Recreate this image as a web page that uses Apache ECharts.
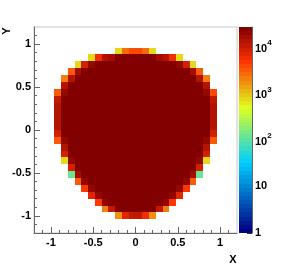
<!DOCTYPE html>
<html><head><meta charset="utf-8">
<script src="https://cdn.jsdelivr.net/npm/echarts@6/dist/echarts.min.js"></script>
<style>html,body{margin:0;padding:0;background:#fff}#c{width:286px;height:278px}</style>
</head><body><div id="c"></div>
<script>
// ---- data ----
const xBinCenters = [-1.16,-1.08,-1.0,-0.92,-0.84,-0.76,-0.68,-0.6,-0.52,-0.44,-0.36,-0.28,-0.2,-0.12,-0.04,0.04,0.12,0.2,0.28,0.36,0.44,0.52,0.6,0.68,0.76,0.84,0.92,1.0,1.08,1.16];
const yBinCenters = [0.92,0.84,0.76,0.68,0.6,0.52,0.44,0.36,0.28,0.2,0.12,0.04,-0.04,-0.12,-0.2,-0.28,-0.36,-0.44,-0.52,-0.6,-0.68,-0.76,-0.84,-0.92,-1.0];
const rowFirstBin = [12,8,6,5,4,4,3,3,3,3,3,3,3,3,4,4,4,5,5,6,7,8,9,10,12];
const rowCounts = [
 [750,2500,4000,4000,2500,750],
 [700,6000,13000,17000,22000,23000,23000,23000,23000,22000,17000,13000,6000,700],
 [750,9000,20000,22000,23000,24000,24000,24000,24000,24000,24000,24000,24000,23000,22000,20000,9000,750],
 [3300,16000,22000,23000,24000,24000,24000,24000,24000,24000,24000,24000,24000,24000,24000,24000,23000,22000,16000,3000],
 [2000,13000,22000,24000,24000,24000,24000,24000,24000,24000,24000,24000,24000,24000,24000,24000,24000,24000,24000,22000,13000,2000],
 [14000,22000,24000,24000,24000,24000,24000,24000,24000,24000,24000,24000,24000,24000,24000,24000,24000,24000,24000,24000,22000,14000],
 [3300,21000,24000,24000,24000,24000,24000,24000,24000,24000,24000,24000,24000,24000,24000,24000,24000,24000,24000,24000,24000,24000,21000,4000],
 [10000,23000,24000,24000,24000,24000,24000,24000,24000,24000,24000,24000,24000,24000,24000,24000,24000,24000,24000,24000,24000,24000,23000,10000],
 [13000,24000,24000,24000,24000,24000,24000,24000,24000,24000,24000,24000,24000,24000,24000,24000,24000,24000,24000,24000,24000,24000,24000,13000],
 [14000,24000,24000,24000,24000,24000,24000,24000,24000,24000,24000,24000,24000,24000,24000,24000,24000,24000,24000,24000,24000,24000,24000,14000],
 [13000,24000,24000,24000,24000,24000,24000,24000,24000,24000,24000,24000,24000,24000,24000,24000,24000,24000,24000,24000,24000,24000,24000,13000],
 [12000,24000,24000,24000,24000,24000,24000,24000,24000,24000,24000,24000,24000,24000,24000,24000,24000,24000,24000,24000,24000,24000,24000,12000],
 [8500,23000,24000,24000,24000,24000,24000,24000,24000,24000,24000,24000,24000,24000,24000,24000,24000,24000,24000,24000,24000,24000,23000,8500],
 [3000,21000,24000,24000,24000,24000,24000,24000,24000,24000,24000,24000,24000,24000,24000,24000,24000,24000,24000,24000,24000,24000,21000,3000],
 [14000,24000,24000,24000,24000,24000,24000,24000,24000,24000,24000,24000,24000,24000,24000,24000,24000,24000,24000,24000,24000,14000],
 [8500,23000,24000,24000,24000,24000,24000,24000,24000,24000,24000,24000,24000,24000,24000,24000,24000,24000,24000,24000,23000,8500],
 [700,20000,24000,24000,24000,24000,24000,24000,24000,24000,24000,24000,24000,24000,24000,24000,24000,24000,24000,24000,20000,700],
 [8500,22000,24000,24000,24000,24000,24000,24000,24000,24000,24000,24000,24000,24000,24000,24000,24000,24000,22000,8500],
 [110,15000,23000,24000,24000,24000,24000,24000,24000,24000,24000,24000,24000,24000,24000,24000,24000,23000,15000,110],
 [3300,20000,24000,24000,24000,24000,24000,24000,24000,24000,24000,24000,24000,24000,24000,24000,20000,3300],
 [5000,21000,24000,24000,24000,24000,24000,24000,24000,24000,24000,24000,24000,24000,21000,5000],
 [6500,21000,24000,24000,24000,24000,24000,24000,24000,24000,24000,24000,21000,6500],
 [4300,20000,24000,24000,24000,24000,24000,24000,24000,24000,20000,4300],
 [2000,10000,22000,24000,24000,24000,24000,22000,10000,2000],
 [1600,6500,10000,10000,5500,1600]
];
const xTickValues = [-1,-0.5,0,0.5,1];
const yTickValues = [-1,-0.5,0,0.5,1];
const xMinorTicks = [-1.1,-0.9,-0.8,-0.7,-0.6,-0.4,-0.3,-0.2,-0.1,0.1,0.2,0.3,0.4,0.6,0.7,0.8,0.9,1.1];
const yMinorTicks = [-1.1,-0.9,-0.8,-0.7,-0.6,-0.4,-0.3,-0.2,-0.1,0.1,0.2,0.3,0.4,0.6,0.7,0.8,0.9,1.1];
const zTickDecades = [0,1,2,3,4];
const zTickLabels = ['1','10','{b|10}{sup|2}','{b|10}{sup|3}','{b|10}{sup|4}'];
const zMaxLog = 4.42;

// ---- palette (style) ----
const nContours = 50;
const halfBin = 0.04;
const palStops=[0,0.34,0.61,0.84,1], palR=[0,0,0.87,1,0.51], palG=[0,0.81,1,0.2,0], palB=[0.51,1,0.12,0,0];
function pal(p){
  let i=0; while(i<palStops.length-2 && p>palStops[i+1]) i++;
  const t=(p-palStops[i])/(palStops[i+1]-palStops[i]);
  const f=a=>Math.round(255*(a[i]+(a[i+1]-a[i])*t));
  return 'rgb('+f(palR)+','+f(palG)+','+f(palB)+')';
}
function bandColor(k){ return pal(k/(nContours-1)); }
function countColor(v){
  let k=Math.floor(Math.log10(v)/zMaxLog*nContours); k=Math.max(0,Math.min(nContours-1,k));
  return bandColor(k);
}

const cells=[];
rowCounts.forEach((row,i)=>row.forEach((v,j)=>cells.push([xBinCenters[rowFirstBin[i]+j], yBinCenters[i], v])));
const bands=[]; for(let k=0;k<nContours;k++) bands.push([k]);
const zMinorTicks=[]; for(let d=0; d<5; d++) for(let m=2;m<10;m++){const l=d+Math.log10(m); if(l<zMaxLog) zMinorTicks.push(l);}

const font='Liberation Sans, Arial, sans-serif';
const axCol='#666';
const lab={fontSize:11,fontWeight:'bold',color:'#000',fontFamily:font};
const chart=echarts.init(document.getElementById('c'),null,{renderer:'canvas'});
chart.setOption({
  animation:false,
  grid:[
    {left:34,top:27,width:203,height:206,show:true,borderColor:'#c8c8c8',borderWidth:1,containLabel:false},
    {left:239,top:27,width:13,height:206,containLabel:false}
  ],
  xAxis:[
    {gridIndex:0,type:'value',min:-1.2,max:1.2,position:'bottom',
     axisLine:{onZero:false,lineStyle:{color:axCol,width:1}},
     axisTick:{inside:true,length:6,customValues:xTickValues,lineStyle:{color:axCol}},
     axisLabel:Object.assign({customValues:xTickValues,margin:4},lab),
     splitLine:{show:false}},
    {gridIndex:0,type:'value',min:-1.2,max:1.2,position:'bottom',
     axisLine:{show:false,onZero:false},
     axisTick:{inside:true,length:3,customValues:xMinorTicks,lineStyle:{color:axCol}},
     axisLabel:{show:false,customValues:xMinorTicks},splitLine:{show:false}},
    {gridIndex:1,type:'value',min:0,max:1,show:false}
  ],
  yAxis:[
    {gridIndex:0,type:'value',min:-1.2,max:1.2,position:'left',
     axisLine:{onZero:false,lineStyle:{color:axCol,width:1}},
     axisTick:{inside:true,length:6,customValues:yTickValues,lineStyle:{color:axCol}},
     axisLabel:Object.assign({customValues:yTickValues,margin:3},lab),
     splitLine:{show:false}},
    {gridIndex:0,type:'value',min:-1.2,max:1.2,position:'left',
     axisLine:{show:false,onZero:false},
     axisTick:{inside:true,length:3,customValues:yMinorTicks,lineStyle:{color:axCol}},
     axisLabel:{show:false,customValues:yMinorTicks},splitLine:{show:false}},
    {gridIndex:1,type:'value',min:0,max:zMaxLog,position:'right',
     axisLine:{show:true,onZero:false,lineStyle:{color:axCol}},
     axisTick:{inside:true,length:5,customValues:zTickDecades,lineStyle:{color:'#333'}},
     axisLabel:Object.assign({customValues:zTickDecades,margin:3,
       formatter:v=>zTickLabels[Math.round(v)],
       rich:{b:{fontSize:11,fontWeight:'bold',lineHeight:15,verticalAlign:'bottom',fontFamily:font,color:'#000'},
             sup:{fontSize:8,fontWeight:'bold',lineHeight:8,verticalAlign:'top',fontFamily:font,color:'#000'}}},lab),
     splitLine:{show:false}},
    {gridIndex:1,type:'value',min:0,max:zMaxLog,position:'right',
     axisLine:{show:false,onZero:false},
     axisTick:{inside:true,length:3,customValues:zMinorTicks,lineStyle:{color:'#333'}},
     axisLabel:{show:false,customValues:zMinorTicks},splitLine:{show:false}}
  ],
  series:[
    {type:'custom',xAxisIndex:0,yAxisIndex:0,data:cells,z:1,
     renderItem:(params,api)=>{
       const x=api.value(0),y=api.value(1),v=api.value(2);
       const p1=api.coord([x-halfBin,y+halfBin]),p2=api.coord([x+halfBin,y-halfBin]);
       const x0=Math.round(p1[0]),y0=Math.round(p1[1]),x1=Math.round(p2[0]),y1=Math.round(p2[1]);
       return {type:'rect',shape:{x:x0,y:y0,width:x1-x0,height:y1-y0},
         style:{fill:countColor(v)}};
     }},
    {type:'custom',xAxisIndex:2,yAxisIndex:2,data:bands,z:1,
     renderItem:(params,api)=>{
       const k=api.value(0), dz=zMaxLog/nContours;
       const p1=api.coord([0,(k+1)*dz]),p2=api.coord([1,k*dz]);
       const y0=Math.round(p1[1]),y1=Math.round(p2[1]);
       return {type:'rect',shape:{x:p1[0],y:y0,width:p2[0]-p1[0],height:y1-y0},
         style:{fill:bandColor(k)}};
     }}
  ],
  graphic:[
    {type:'text',x:7,y:31,rotation:Math.PI/2,style:{text:'Y',font:'bold 11px '+font,fill:'#000',align:'center',verticalAlign:'middle'}},
    {type:'text',x:233,y:260,style:{text:'X',font:'bold 11px '+font,fill:'#000',align:'center',verticalAlign:'middle'}}
  ]
});
</script></body></html>
